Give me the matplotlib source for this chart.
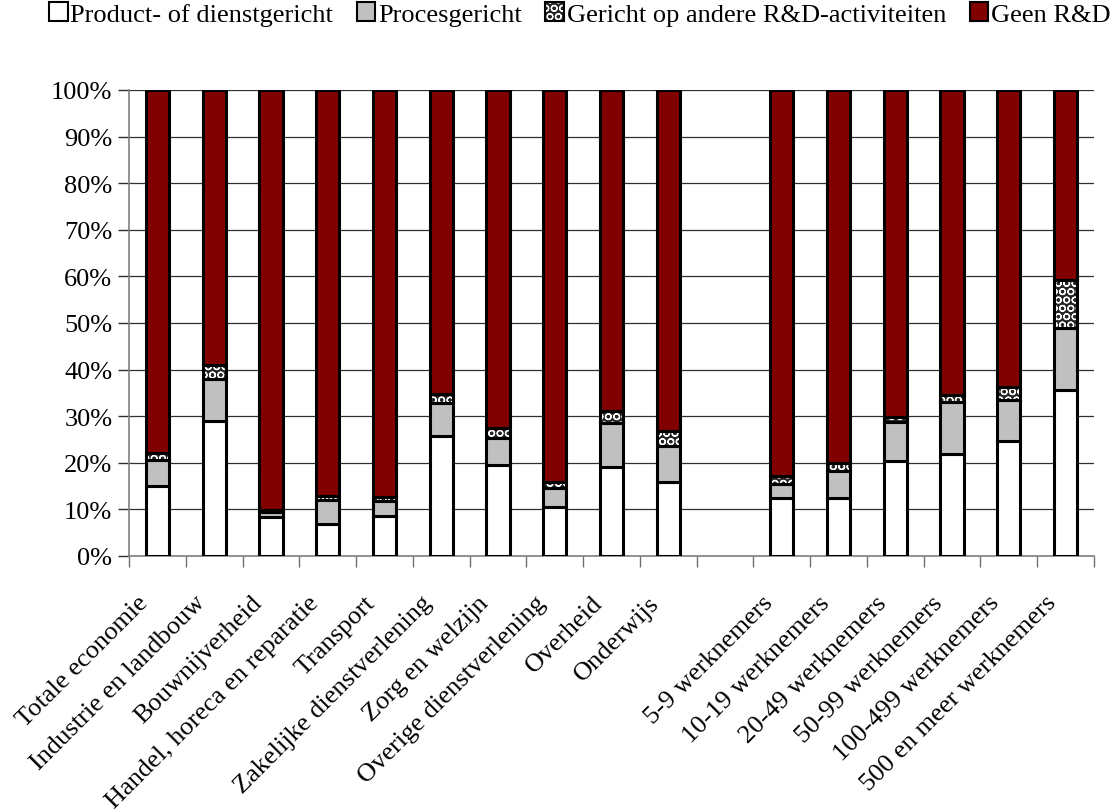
import matplotlib
matplotlib.use("Agg")
import matplotlib.pyplot as plt
from matplotlib.patches import Patch
from matplotlib.legend_handler import HandlerTuple
import numpy as np

plt.rcParams['font.family'] = ['Liberation Serif', 'DejaVu Serif']
plt.rcParams['hatch.linewidth'] = 0.9

categories = [
    "Totale economie", "Industrie en landbouw", "Bouwnijverheid",
    "Handel, horeca en reparatie", "Transport", "Zakelijke dienstverlening",
    "Zorg en welzijn", "Overige dienstverlening", "Overheid", "Onderwijs",
    "",
    "5-9 werknemers", "10-19 werknemers", "20-49 werknemers",
    "50-99 werknemers", "100-499 werknemers", "500 en meer werknemers",
]

# shares in percent per category (empty slot separates sectors from size classes)
product = [15.0, 29.0, 8.4, 6.9, 8.5, 25.8, 19.6, 10.6, 19.0, 15.8,
           np.nan, 12.4, 12.4, 20.3, 21.8, 24.7, 35.6]
proces = [5.6, 9.0, 1.1, 5.1, 3.3, 7.0, 5.8, 3.9, 9.6, 7.7,
          np.nan, 3.1, 5.8, 8.5, 11.2, 8.8, 13.3]
andere = [1.6, 3.0, 0.4, 0.9, 0.9, 2.0, 2.0, 1.4, 2.5, 3.3,
          np.nan, 1.6, 1.7, 1.0, 1.6, 2.8, 10.4]
geen = [100 - a - b - c for a, b, c in zip(product, proces, andere)]

series_names = ["Product- of dienstgericht", "Procesgericht",
                "Gericht op andere R&D-activiteiten", "Geen R&D"]
fills = ["white", "#c0c0c0", "#262626", "#800000"]
checker = "OO"

fig = plt.figure(figsize=(11.19, 8.12), dpi=100)
ax = fig.add_axes([129 / 1119, 1 - 557 / 812, (1094 - 129) / 1119, (557 - 91) / 812])

x = np.arange(len(categories))
keep = [i for i, c in enumerate(categories) if c]
xk = x[keep]
width = 0.41
lw = 2.2
bottom = np.zeros(len(keep))

handles = []
for k, (vals, name, fc) in enumerate(zip([product, proces, andere, geen], series_names, fills)):
    v = np.array(vals, dtype=float)[keep]
    if k == 2:
        # dark fill with a light pattern of circles, then a black outline on top
        ax.bar(xk, v, width, bottom=bottom, facecolor=fc, edgecolor="white",
               hatch=checker, linewidth=0, zorder=3)
        ax.bar(xk, v, width, bottom=bottom, fill=False, edgecolor="black",
               linewidth=lw, zorder=4)
        h = (Patch(facecolor=fc, edgecolor="white", hatch=checker, linewidth=0),
             Patch(fill=False, edgecolor="black", linewidth=1.5))
    else:
        ax.bar(xk, v, width, bottom=bottom, facecolor=fc, edgecolor="black",
               linewidth=lw, zorder=3)
        h = Patch(facecolor=fc, edgecolor="black", linewidth=1.5)
    bottom = bottom + v
    handles.append(h)

ax.set_xlim(-0.5, len(categories) - 0.5)
ax.set_ylim(0, 100)
ax.set_yticks(np.arange(0, 101, 10))
ax.set_yticklabels([f"{v}%" for v in range(0, 101, 10)], fontsize=19)
ax.yaxis.grid(True, color="#303030", linewidth=0.9, zorder=0)
ax.set_axisbelow(True)

ax.set_xticks(np.arange(len(categories) + 1) - 0.5)
ax.set_xticklabels([])
ax.tick_params(axis="x", length=8, color="#707070", width=1)
ax.tick_params(axis="y", length=8, color="#303030", width=1, pad=4)
for i, lab in enumerate(categories):
    if lab:
        ax.annotate(lab, xy=(i, 0), xycoords=("data", "axes fraction"),
                    xytext=(-9, -31), textcoords="offset points",
                    rotation=45, rotation_mode="anchor", ha="right", va="center",
                    fontsize=19)

for s in ["top", "right"]:
    ax.spines[s].set_visible(False)
for s in ["left", "bottom"]:
    ax.spines[s].set_color("#808080")
    ax.spines[s].set_linewidth(1.2)

fig.legend(handles=handles, labels=series_names, loc="upper center",
           bbox_to_anchor=(0.518, 1.012), ncol=4, frameon=False, fontsize=19,
           handlelength=0.7, handleheight=0.7, handletextpad=0.1,
           columnspacing=0.9, borderaxespad=0.1,
           handler_map={tuple: HandlerTuple(ndivide=1, pad=0)})

fig.savefig("out.png", dpi=100)
